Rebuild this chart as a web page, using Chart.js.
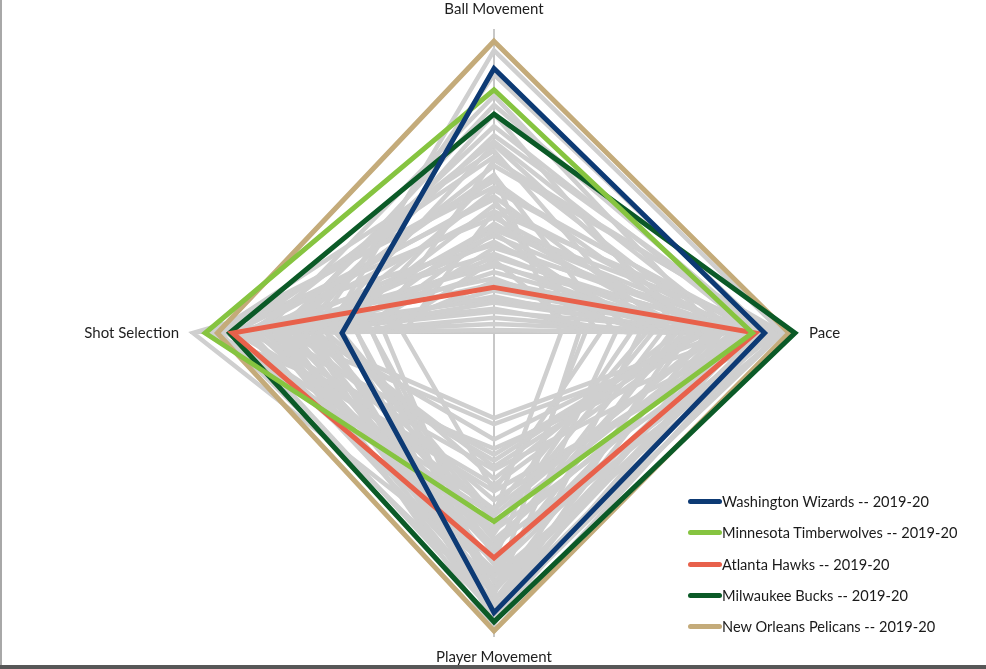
<!DOCTYPE html>
<html>
<head>
<meta charset="utf-8">
<script src="https://cdn.jsdelivr.net/npm/chart.js@4/dist/chart.umd.min.js"></script>
<style>
    html, body { margin: 0; padding: 0; background: #fff; }
    #wrap { position: relative; width: 986px; height: 669px; overflow: hidden; }
    #edge-left { position: absolute; left: 0; top: 0; width: 2px; height: 669px; background: #a8a8a8; }
    #edge-bottom { position: absolute; left: 0; bottom: 0; width: 986px; height: 4px; background: #575757; }
    #legend { position: absolute; left: 688px; top: 486px; font-family: Lato, "Open Sans", sans-serif; font-size: 14.6px; color: #1a1a1a; }
    #legend .row { height: 31.3px; display: flex; align-items: center; white-space: nowrap; }
    #legend .swatch { width: 34px; height: 5px; border-radius: 3px; }
</style>
</head>
<body>
<div id="wrap">
    <canvas id="radarChart"></canvas>
    <div id="legend"></div>
    <div id="edge-left"></div>
    <div id="edge-bottom"></div>
</div>
<script>
var axisLabels = ['Ball Movement', 'Pace', 'Player Movement', 'Shot Selection'];

// highlighted teams, values on a 0-100 scale
var teamNames = [
    'Washington Wizards -- 2019-20',
    'Minnesota Timberwolves -- 2019-20',
    'Atlanta Hawks -- 2019-20',
    'Milwaukee Bucks -- 2019-20',
    'New Orleans Pelicans -- 2019-20'
];
var wizards      = [87, 89, 92, 50];
var timberwolves = [80, 85, 62, 95];
var hawks        = [15, 86, 74, 86];
var bucks        = [72, 99, 95, 87];
var pelicans     = [96, 97, 98, 91];
var teamValues = [wizards, timberwolves, hawks, bucks, pelicans];
var teamColors = ['#0d3a74', '#86c440', '#e8614b', '#0b5a27', '#c4ab7a'];

// every other team-season, drawn in grey
var otherTeams = [
    [93, 95, 90, 55], [85, 90, 90, 60], [63, 80, 85, 80], [68, 86, 75, 72],
    [58, 75, 92, 85], [55, 95, 80, 70], [50, 70, 88, 90], [47, 88, 65, 60],
    [45, 60, 78, 82], [42, 82, 95, 55], [40, 92, 70, 78], [38, 72, 60, 92],
    [36, 65, 85, 50], [34, 85, 55, 65], [32, 78, 90, 75], [30, 55, 72, 68],
    [28, 90, 82, 45], [26, 68, 50, 85], [25, 80, 68, 58], [23, 62, 93, 72],
    [22, 88, 45, 80], [20, 74, 76, 62], [18, 50, 58, 88], [17, 84, 88, 40],
    [16, 66, 40, 75], [14, 78, 62, 52], [12, 58, 80, 66], [11, 92, 52, 84],
    [10, 70, 35, 60], [8, 45, 66, 78], [7, 82, 30, 70], [5, 60, 48, 55],
    [3, 76, 28, 64], [1, 65, 42, 72], [72, 62, 70, 64], [78, 74, 58, 76],
    [60, 52, 64, 92], [65, 90, 98, 68], [52, 40, 86, 74], [48, 86, 38, 94],
    [44, 30, 75, 86], [35, 94, 92, 62], [29, 82, 78, 99], [62, 68, 44, 58],
    [75, 88, 84, 70], [52, 22, 60, 50], [40, 35, 52, 30], [33, 48, 96, 45],
    [57, 93, 74, 40], [24, 28, 86, 36]
];
var GREY = '#cfcfcf';

(function () {
    var canvas = document.getElementById('radarChart');
    canvas.width = 986;
    canvas.height = 669;

    var datasets = teamValues.map(function (vals, i) {
        return {
            label: teamNames[i],
            data: vals,
            borderColor: teamColors[i],
            borderWidth: 5,
            fill: false
        };
    });
    otherTeams.forEach(function (vals, i) {
        datasets.push({
            label: 'other ' + i,
            data: vals,
            borderColor: GREY,
            borderWidth: 4.5,
            fill: false
        });
    });

    new Chart(canvas, {
        type: 'radar',
        data: { labels: axisLabels, datasets: datasets },
        options: {
            responsive: false,
            animation: false,
            layout: { padding: { left: 2, bottom: 2 } },
            elements: {
                point: { radius: 0, hoverRadius: 0 },
                line: { tension: 0, borderJoinStyle: 'miter' }
            },
            plugins: {
                legend: { display: false },
                tooltip: { enabled: false }
            },
            scales: {
                r: {
                    min: 0,
                    max: 100,
                    ticks: { display: false },
                    grid: { display: false },
                    angleLines: { display: true, color: '#c8c8c8', lineWidth: 2 },
                    pointLabels: {
                        padding: 11,
                        color: '#1e1e1e',
                        font: { family: 'Lato, "Open Sans", sans-serif', size: 15 }
                    }
                }
            }
        }
    });

    var html = '';
    teamNames.forEach(function (name, i) {
        html += '<div class="row"><span class="swatch" style="background:' + teamColors[i] + '"></span>' + name + '</div>';
    });
    document.getElementById('legend').innerHTML = html;
})();
</script>
</body>
</html>
